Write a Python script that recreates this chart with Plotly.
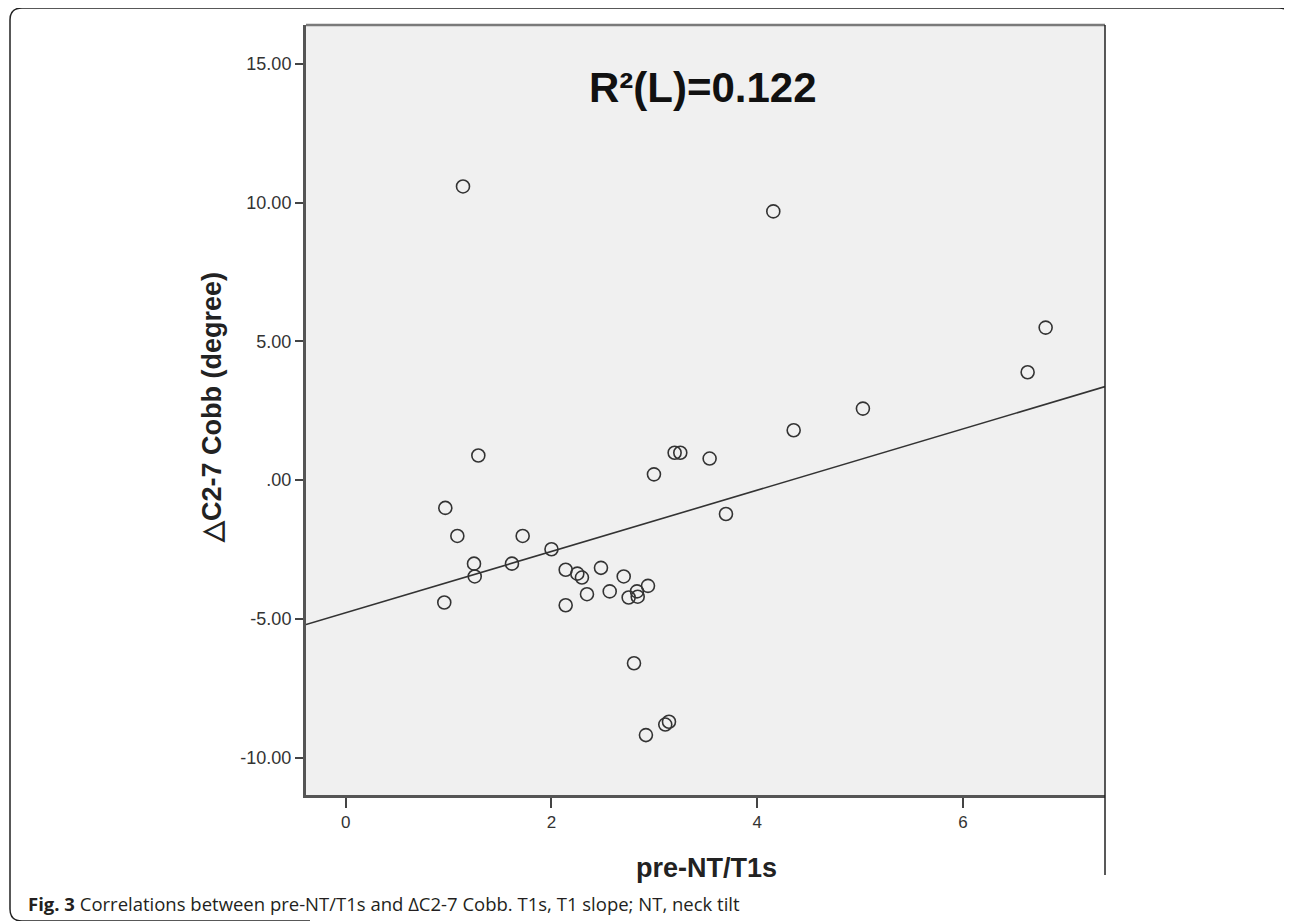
import plotly.graph_objects as go

# ---- data ----
pre_nt_t1s = [1.289, 0.968, 1.085, 1.720, 2.000, 1.247, 1.254, 1.616, 0.958, 2.138,
              2.251, 2.296, 2.481, 2.702, 2.345, 2.566, 2.750, 2.831, 2.838, 2.938,
              2.138, 2.802, 3.106, 3.142, 2.918, 2.996, 3.197, 3.252, 3.537, 3.696,
              4.354, 4.156, 6.803, 6.628, 5.027, 1.140]
delta_cobb = [0.89, -1.00, -2.01, -2.01, -2.49, -3.01, -3.47, -3.01, -4.41, -3.23,
              -3.37, -3.51, -3.16, -3.47, -4.11, -4.01, -4.23, -4.01, -4.20, -3.81,
              -4.51, -6.60, -8.81, -8.71, -9.19, 0.21, 0.99, 0.99, 0.78, -1.22,
              1.80, 9.69, 5.50, 3.89, 2.58, 10.59]

fit_intercept = -4.78
fit_slope = 1.105

x_range = [-0.386, 7.38]
y_range = [-11.35, 16.41]

y_tickvals = [15, 10, 5, 0, -5, -10]
y_ticktext = ["15.00", "10.00", "5.00", ".00", "-5.00", "-10.00"]
x_tickvals = [0, 2, 4, 6]
x_ticktext = ["0", "2", "4", "6"]

r2_label = "R²(L)=0.122"
x_title = "pre-NT/T1s"
y_title = "△C2-7 Cobb (degree)"
caption_bold = "Fig. 3"
caption_rest = " Correlations between pre-NT/T1s and ΔC2-7 Cobb. T1s, T1 slope; NT, neck tilt"

# ---- figure (page body adds an 8 px offset, compensated here) ----
OFF = 8
W, H = 1292 - OFF, 921 - OFF
PL, PR, PT, PB = 306, 1105, 25, 795          # plot panel edges in page pixels
ML, MT = PL - OFF, PT - OFF
MR = W - (PR - OFF)
MB = H - (PB - OFF)
PW, PH = PR - PL, PB - PT


def px(xp):
    return (xp - PL) / PW


def py(yp):
    return (PB - yp) / PH


fig = go.Figure()

fig.add_trace(go.Scatter(
    x=x_range,
    y=[fit_intercept + fit_slope * v for v in x_range],
    mode="lines",
    line=dict(color="#333333", width=1.6),
    hoverinfo="skip",
    showlegend=False,
))

fig.add_trace(go.Scatter(
    x=pre_nt_t1s, y=delta_cobb,
    mode="markers",
    marker=dict(symbol="circle-open", size=13, color="#333333",
                line=dict(width=1.6, color="#333333")),
    showlegend=False,
))

fig.update_layout(
    width=W, height=H,
    margin=dict(l=ML, r=MR, t=MT, b=MB, pad=0),
    paper_bgcolor="white",
    plot_bgcolor="#f0f0f0",
    font=dict(family="Liberation Sans, Arial, sans-serif", color="#333333"),
    xaxis=dict(
        range=x_range, showgrid=False, zeroline=False,
        tickvals=x_tickvals, ticktext=x_ticktext,
        ticks="outside", ticklen=10, tickwidth=2, tickcolor="#444444",
        tickfont=dict(size=17, color="#333333"),
        showline=True, linecolor="#555555", linewidth=3, mirror=False,
    ),
    yaxis=dict(
        range=y_range, showgrid=False, zeroline=False,
        tickvals=y_tickvals, ticktext=y_ticktext,
        ticks="outside", ticklen=8, tickwidth=2, tickcolor="#444444",
        tickfont=dict(size=18, color="#333333"),
        showline=True, linecolor="#555555", linewidth=3, mirror=False,
    ),
)

# top border of the plot panel
fig.add_shape(type="line", xref="paper", yref="paper",
              x0=0, x1=1, y0=1, y1=1,
              line=dict(color="#7a7a7a", width=2.5))
# right border, extending below the panel
fig.add_shape(type="line", xref="paper", yref="paper",
              x0=px(1105), x1=px(1105), y0=1, y1=py(875),
              line=dict(color="#222222", width=1.5))

# outer rounded frame
r = 12
x0p, x1p, y0p, y1p = 10, 1291, 8, 921
path = (f"M {px(x0p + 300)} {py(y1p)} L {px(x0p + r)} {py(y1p)} "
        f"Q {px(x0p)} {py(y1p)} {px(x0p)} {py(y1p - r)} "
        f"L {px(x0p)} {py(y0p + r)} "
        f"Q {px(x0p)} {py(y0p)} {px(x0p + r)} {py(y0p)} "
        f"L {px(x1p - r)} {py(y0p)} "
        f"Q {px(x1p)} {py(y0p)} {px(x1p)} {py(y0p + r)} "
        f"L {px(x1p)} {py(y1p)}")
fig.add_shape(type="path", xref="paper", yref="paper", path=path,
              line=dict(color="#222222", width=1.5))

fig.add_annotation(text=f"<b>{r2_label}</b>", xref="paper", yref="paper",
                   x=px(703), y=py(88), showarrow=False,
                   font=dict(size=42, color="#111111"),
                   xanchor="center", yanchor="middle")

fig.add_annotation(text=f"<b>{x_title}</b>", xref="paper", yref="paper",
                   x=px(706), y=py(868), showarrow=False,
                   font=dict(size=27, color="#222222"),
                   xanchor="center", yanchor="middle")

fig.add_annotation(text=f"<b>{y_title}</b>", xref="paper", yref="paper",
                   x=px(212), y=py(408), showarrow=False, textangle=-90,
                   font=dict(size=27, color="#222222"),
                   xanchor="center", yanchor="middle")

fig.add_annotation(text=f"<b>{caption_bold}</b>{caption_rest}",
                   xref="paper", yref="paper",
                   x=px(26), y=py(903), showarrow=False,
                   font=dict(size=18.5, color="#231f20",
                             family="Open Sans, Noto Sans, sans-serif"),
                   xanchor="left", yanchor="middle")

fig.write_html("out.html")
